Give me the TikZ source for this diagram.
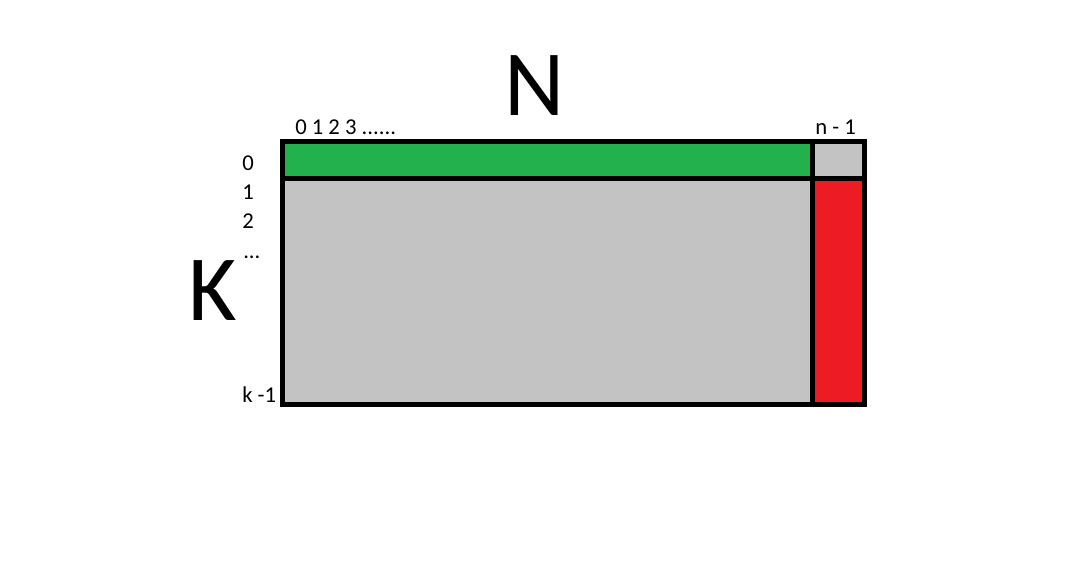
\documentclass[tikz,border=0pt]{standalone}
\usepackage{fontspec}
\setmainfont{Carlito}
\definecolor{rowgreen}{RGB}{34,177,76}
\definecolor{cellgray}{RGB}{195,195,195}
\definecolor{colred}{RGB}{237,28,36}
\newcommand\bigsize{\fontsize{70}{84}\selectfont}
\newcommand\smallsize{\fontsize{17}{20}\selectfont}

\begin{document}
\begin{tikzpicture}[x=0.75pt,y=-0.75pt,
		cell/.style={rectangle,draw=black,line width=3.75pt,inner sep=0pt,outer sep=0pt,anchor=north west},
		idx/.style={inner sep=0pt,anchor=base west,font=\smallsize},
		dimlabel/.style={inner sep=0pt,anchor=base,font=\bigsize}]
		\useasboundingbox (0,0) rectangle (1075,562);
		\node(firstrow)[cell,fill=rowgreen,minimum width=397.5pt,minimum height=27.75pt] at (282,141) {};
		\node(corner)[cell,fill=cellgray,minimum width=39pt,minimum height=27.75pt] at (firstrow.north east) {};
		\node(body)[cell,fill=cellgray,minimum width=397.5pt,minimum height=169.5pt] at (firstrow.south west) {};
		\node(lastcol)[cell,fill=colred,minimum width=39pt,minimum height=169.5pt] at (body.north east) {};
		\node(N)[dimlabel] at (534.5,115) {N};
		\node(K)[dimlabel] at (213,320) {K};
		\node(cols)[idx] at (295,134) {0 1 2 3 ......};
		\node(lastidx)[idx] at (815,134) {n - 1};
		\node(r0)[idx] at (242,170) {0};
		\node(r1)[idx] at (242,199) {1};
		\node(r2)[idx] at (242,228) {2};
		\node(rdots)[idx] at (243,258) {...};
		\node(rlast)[idx] at (242,402) {k -1};
	\end{tikzpicture}
\end{document}
